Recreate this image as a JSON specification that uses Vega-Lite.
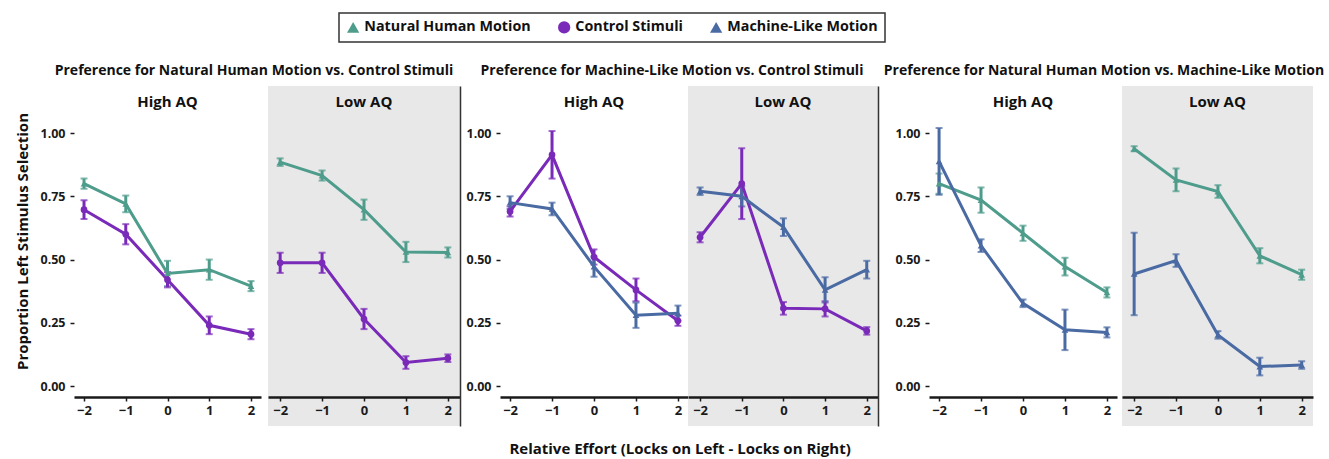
{
  "$schema": "https://vega.github.io/schema/vega-lite/v6.json",
  "padding": {"left": 15, "top": 12, "right": 0, "bottom": 0},
  "config": {
    "font": "Open Sans",
    "view": {"stroke": null},
    "title": {"fontSize": 14, "fontWeight": "bold", "color": "#111"},
    "legend": {
      "orient": "none", "legendX": 265, "legendY": -73, "direction": "horizontal",
      "strokeColor": "#333", "strokeWidth": 1.5, "padding": 7,
      "labelFontSize": 14.3, "labelFontWeight": "bold", "labelColor": "#111", "labelLimit": 300,
      "symbolSize": 150, "symbolStrokeWidth": 0, "columnPadding": 26, "symbolOpacity": 1
    }
  },
  "title": {"text": "Relative Effort (Locks on Left - Locks on Right)", "orient": "bottom", "anchor": "middle", "fontSize": 15, "fontWeight": "bold", "offset": 16, "dx": 10},
  "data": {"name": "d"},
  "datasets": {
    "d": [
      {"s":1,"aq":"High","c":"Natural Human Motion","x":-2,"y":0.80,"lo":0.78,"hi":0.82},
      {"s":1,"aq":"High","c":"Natural Human Motion","x":-1,"y":0.72,"lo":0.687,"hi":0.753},
      {"s":1,"aq":"High","c":"Natural Human Motion","x":0,"y":0.445,"lo":0.395,"hi":0.495},
      {"s":1,"aq":"High","c":"Natural Human Motion","x":1,"y":0.46,"lo":0.42,"hi":0.50},
      {"s":1,"aq":"High","c":"Natural Human Motion","x":2,"y":0.395,"lo":0.375,"hi":0.415},
      {"s":1,"aq":"High","c":"Control Stimuli","x":-2,"y":0.697,"lo":0.66,"hi":0.734},
      {"s":1,"aq":"High","c":"Control Stimuli","x":-1,"y":0.60,"lo":0.56,"hi":0.64},
      {"s":1,"aq":"High","c":"Control Stimuli","x":0,"y":0.42,"lo":0.39,"hi":0.45},
      {"s":1,"aq":"High","c":"Control Stimuli","x":1,"y":0.24,"lo":0.205,"hi":0.275},
      {"s":1,"aq":"High","c":"Control Stimuli","x":2,"y":0.205,"lo":0.185,"hi":0.225},
      {"s":1,"aq":"Low","c":"Natural Human Motion","x":-2,"y":0.885,"lo":0.87,"hi":0.90},
      {"s":1,"aq":"Low","c":"Natural Human Motion","x":-1,"y":0.832,"lo":0.812,"hi":0.852},
      {"s":1,"aq":"Low","c":"Natural Human Motion","x":0,"y":0.697,"lo":0.657,"hi":0.737},
      {"s":1,"aq":"Low","c":"Natural Human Motion","x":1,"y":0.53,"lo":0.49,"hi":0.57},
      {"s":1,"aq":"Low","c":"Natural Human Motion","x":2,"y":0.528,"lo":0.508,"hi":0.548},
      {"s":1,"aq":"Low","c":"Control Stimuli","x":-2,"y":0.487,"lo":0.447,"hi":0.527},
      {"s":1,"aq":"Low","c":"Control Stimuli","x":-1,"y":0.487,"lo":0.447,"hi":0.527},
      {"s":1,"aq":"Low","c":"Control Stimuli","x":0,"y":0.265,"lo":0.225,"hi":0.305},
      {"s":1,"aq":"Low","c":"Control Stimuli","x":1,"y":0.093,"lo":0.068,"hi":0.118},
      {"s":1,"aq":"Low","c":"Control Stimuli","x":2,"y":0.11,"lo":0.095,"hi":0.125},
      {"s":2,"aq":"High","c":"Control Stimuli","x":-2,"y":0.69,"lo":0.67,"hi":0.71},
      {"s":2,"aq":"High","c":"Control Stimuli","x":-1,"y":0.914,"lo":0.82,"hi":1.008},
      {"s":2,"aq":"High","c":"Control Stimuli","x":0,"y":0.51,"lo":0.48,"hi":0.54},
      {"s":2,"aq":"High","c":"Control Stimuli","x":1,"y":0.38,"lo":0.335,"hi":0.425},
      {"s":2,"aq":"High","c":"Control Stimuli","x":2,"y":0.258,"lo":0.238,"hi":0.278},
      {"s":2,"aq":"High","c":"Machine-Like Motion","x":-2,"y":0.725,"lo":0.70,"hi":0.75},
      {"s":2,"aq":"High","c":"Machine-Like Motion","x":-1,"y":0.70,"lo":0.675,"hi":0.725},
      {"s":2,"aq":"High","c":"Machine-Like Motion","x":0,"y":0.472,"lo":0.432,"hi":0.512},
      {"s":2,"aq":"High","c":"Machine-Like Motion","x":1,"y":0.28,"lo":0.23,"hi":0.33},
      {"s":2,"aq":"High","c":"Machine-Like Motion","x":2,"y":0.288,"lo":0.258,"hi":0.318},
      {"s":2,"aq":"Low","c":"Control Stimuli","x":-2,"y":0.588,"lo":0.568,"hi":0.608},
      {"s":2,"aq":"Low","c":"Control Stimuli","x":-1,"y":0.80,"lo":0.66,"hi":0.94},
      {"s":2,"aq":"Low","c":"Control Stimuli","x":0,"y":0.307,"lo":0.282,"hi":0.332},
      {"s":2,"aq":"Low","c":"Control Stimuli","x":1,"y":0.305,"lo":0.275,"hi":0.335},
      {"s":2,"aq":"Low","c":"Control Stimuli","x":2,"y":0.218,"lo":0.203,"hi":0.233},
      {"s":2,"aq":"Low","c":"Machine-Like Motion","x":-2,"y":0.77,"lo":0.755,"hi":0.785},
      {"s":2,"aq":"Low","c":"Machine-Like Motion","x":-1,"y":0.75,"lo":0.71,"hi":0.79},
      {"s":2,"aq":"Low","c":"Machine-Like Motion","x":0,"y":0.628,"lo":0.593,"hi":0.663},
      {"s":2,"aq":"Low","c":"Machine-Like Motion","x":1,"y":0.38,"lo":0.33,"hi":0.43},
      {"s":2,"aq":"Low","c":"Machine-Like Motion","x":2,"y":0.46,"lo":0.425,"hi":0.495},
      {"s":3,"aq":"High","c":"Natural Human Motion","x":-2,"y":0.80,"lo":0.76,"hi":0.84},
      {"s":3,"aq":"High","c":"Natural Human Motion","x":-1,"y":0.735,"lo":0.685,"hi":0.785},
      {"s":3,"aq":"High","c":"Natural Human Motion","x":0,"y":0.604,"lo":0.574,"hi":0.634},
      {"s":3,"aq":"High","c":"Natural Human Motion","x":1,"y":0.472,"lo":0.437,"hi":0.507},
      {"s":3,"aq":"High","c":"Natural Human Motion","x":2,"y":0.37,"lo":0.35,"hi":0.39},
      {"s":3,"aq":"High","c":"Machine-Like Motion","x":-2,"y":0.888,"lo":0.756,"hi":1.02},
      {"s":3,"aq":"High","c":"Machine-Like Motion","x":-1,"y":0.555,"lo":0.53,"hi":0.58},
      {"s":3,"aq":"High","c":"Machine-Like Motion","x":0,"y":0.327,"lo":0.312,"hi":0.342},
      {"s":3,"aq":"High","c":"Machine-Like Motion","x":1,"y":0.222,"lo":0.142,"hi":0.302},
      {"s":3,"aq":"High","c":"Machine-Like Motion","x":2,"y":0.212,"lo":0.192,"hi":0.232},
      {"s":3,"aq":"Low","c":"Natural Human Motion","x":-2,"y":0.938,"lo":0.928,"hi":0.948},
      {"s":3,"aq":"Low","c":"Natural Human Motion","x":-1,"y":0.815,"lo":0.77,"hi":0.86},
      {"s":3,"aq":"Low","c":"Natural Human Motion","x":0,"y":0.769,"lo":0.744,"hi":0.794},
      {"s":3,"aq":"Low","c":"Natural Human Motion","x":1,"y":0.515,"lo":0.485,"hi":0.545},
      {"s":3,"aq":"Low","c":"Natural Human Motion","x":2,"y":0.44,"lo":0.42,"hi":0.46},
      {"s":3,"aq":"Low","c":"Machine-Like Motion","x":-2,"y":0.443,"lo":0.28,"hi":0.606},
      {"s":3,"aq":"Low","c":"Machine-Like Motion","x":-1,"y":0.496,"lo":0.471,"hi":0.521},
      {"s":3,"aq":"Low","c":"Machine-Like Motion","x":0,"y":0.202,"lo":0.187,"hi":0.217},
      {"s":3,"aq":"Low","c":"Machine-Like Motion","x":1,"y":0.077,"lo":0.042,"hi":0.112},
      {"s":3,"aq":"Low","c":"Machine-Like Motion","x":2,"y":0.083,"lo":0.068,"hi":0.098}
    ]
  },
  "spacing": 5,
  "hconcat": [
    {
      "title": {"text": "Preference for Natural Human Motion vs. Control Stimuli", "anchor": "middle", "offset": 8, "dx": 16},
      "spacing": 7,
      "hconcat": [
        {
          "width": 187, "height": 340,
          "title": {"text": "High AQ", "offset": -24, "fontSize": 15},
          "encoding": {"x": {"field": "x", "type": "quantitative", "scale": {"domain": [-2.24, 2.24], "nice": false, "zero": false}, "axis": {"values": [-2,-1,0,1,2], "format": "d", "offset": -29, "title": null, "grid": false, "domainColor": "#1a1a1a", "domainWidth": 2.5, "tickColor": "#1a1a1a", "tickWidth": 1.5, "tickSize": 4, "labelFontSize": 13, "labelFontWeight": "bold", "labelColor": "#1a1a1a", "labelPadding": 3}}},
          "layer": [
            {"data": {"values": [{}]}, "mark": {"type": "rule", "color": "#1a1a1a", "strokeWidth": 2.5}, "encoding": {"x": {"datum": -2.24, "type": "quantitative"}, "y": {"datum": -0.043, "type": "quantitative", "title": "Proportion Left Stimulus Selection", "scale": {"domain": [-0.158, 1.186], "nice": false, "zero": false}, "axis": {"values": [0,0.25,0.5,0.75,1], "format": ".2f", "domain": false, "grid": false, "tickColor": "#1a1a1a", "tickSize": 4, "tickWidth": 1.5, "labelFontSize": 12.5, "labelFontWeight": "bold", "labelColor": "#1a1a1a", "labelPadding": 5, "title": "Proportion Left Stimulus Selection", "titleFontSize": 15, "titleFontWeight": "bold", "titleColor": "#111", "titleY": 155, "titlePadding": 9}}, "y2": {"datum": 1.045}}},
            {"transform": [{"filter": "datum.s == 1 && datum.aq == 'High'"}], "mark": {"type": "errorbar", "thickness": 3, "ticks": {"size": 7, "thickness": 2}}, "encoding": {"y": {"field": "lo", "type": "quantitative", "title": "Proportion Left Stimulus Selection", "scale": {"domain": [-0.158, 1.186], "nice": false, "zero": false}}, "y2": {"field": "hi"}, "color": {"field": "c", "type": "nominal", "title": null, "scale": {"domain": ["Natural Human Motion", "Control Stimuli", "Machine-Like Motion"], "range": ["#4e9c8b", "#7a2ab8", "#4a6aa3"]}}}},
            {"transform": [{"filter": "datum.s == 1 && datum.aq == 'High'"}], "mark": {"type": "line", "strokeWidth": 3}, "encoding": {"y": {"field": "y", "type": "quantitative", "title": "Proportion Left Stimulus Selection"}, "color": {"field": "c", "type": "nominal", "title": null}}},
            {"transform": [{"filter": "datum.s == 1 && datum.aq == 'High'"}], "mark": {"type": "point", "filled": true, "size": 45, "opacity": 1}, "encoding": {"y": {"field": "y", "type": "quantitative", "title": "Proportion Left Stimulus Selection"}, "color": {"field": "c", "type": "nominal", "title": null}, "shape": {"field": "c", "type": "nominal", "title": null, "scale": {"domain": ["Natural Human Motion", "Control Stimuli", "Machine-Like Motion"], "range": ["triangle-up", "circle", "triangle-up"]}}}}
          ]
        },
        {
          "width": 192, "height": 340,
          "view": {"fill": "#e8e8e8", "stroke": null},
          "title": {"text": "Low AQ", "offset": -24, "fontSize": 15},
          "encoding": {"x": {"field": "x", "type": "quantitative", "scale": {"domain": [-2.29, 2.29], "nice": false, "zero": false}, "axis": {"values": [-2,-1,0,1,2], "format": "d", "offset": -29, "title": null, "grid": false, "domainColor": "#1a1a1a", "domainWidth": 2.5, "tickColor": "#1a1a1a", "tickWidth": 1.5, "tickSize": 4, "labelFontSize": 13, "labelFontWeight": "bold", "labelColor": "#1a1a1a", "labelPadding": 3}}},
          "transform": [{"filter": "datum.s == 1 && datum.aq == 'Low'"}],
          "layer": [
            {"mark": {"type": "errorbar", "thickness": 3, "ticks": {"size": 7, "thickness": 2}}, "encoding": {"y": {"field": "lo", "type": "quantitative", "scale": {"domain": [-0.158, 1.186], "nice": false, "zero": false}, "axis": {"orient": "right", "labels": false, "ticks": false, "domain": true, "domainColor": "#333", "domainWidth": 1.5, "grid": false, "title": null}}, "y2": {"field": "hi"}, "color": {"field": "c", "type": "nominal", "title": null}}},
            {"mark": {"type": "line", "strokeWidth": 3}, "encoding": {"y": {"field": "y", "type": "quantitative"}, "color": {"field": "c", "type": "nominal", "title": null}}},
            {"mark": {"type": "point", "filled": true, "size": 45, "opacity": 1}, "encoding": {"y": {"field": "y", "type": "quantitative"}, "color": {"field": "c", "type": "nominal", "title": null}, "shape": {"field": "c", "type": "nominal", "title": null}}}
          ]
        }
      ]
    },
    {
      "title": {"text": "Preference for Machine-Like Motion vs. Control Stimuli", "anchor": "middle", "offset": 8},
      "spacing": 0,
      "hconcat": [
        {
          "width": 188, "height": 340,
          "title": {"text": "High AQ", "offset": -24, "fontSize": 15},
          "encoding": {"x": {"field": "x", "type": "quantitative", "scale": {"domain": [-2.24, 2.24], "nice": false, "zero": false}, "axis": {"values": [-2,-1,0,1,2], "format": "d", "offset": -29, "title": null, "grid": false, "domainColor": "#1a1a1a", "domainWidth": 2.5, "tickColor": "#1a1a1a", "tickWidth": 1.5, "tickSize": 4, "labelFontSize": 13, "labelFontWeight": "bold", "labelColor": "#1a1a1a", "labelPadding": 3}}},
          "layer": [
            {"data": {"values": [{}]}, "mark": {"type": "rule", "color": "#1a1a1a", "strokeWidth": 2.5}, "encoding": {"x": {"datum": -2.24, "type": "quantitative"}, "y": {"datum": -0.043, "type": "quantitative", "scale": {"domain": [-0.158, 1.186], "nice": false, "zero": false}, "axis": {"values": [0,0.25,0.5,0.75,1], "format": ".2f", "domain": false, "grid": false, "tickColor": "#1a1a1a", "tickSize": 4, "tickWidth": 1.5, "labelFontSize": 12.5, "labelFontWeight": "bold", "labelColor": "#1a1a1a", "labelPadding": 5, "title": null}}, "y2": {"datum": 1.045}}},
            {"transform": [{"filter": "datum.s == 2 && datum.aq == 'High'"}], "mark": {"type": "errorbar", "thickness": 3, "ticks": {"size": 7, "thickness": 2}}, "encoding": {"y": {"field": "lo", "type": "quantitative"}, "y2": {"field": "hi"}, "color": {"field": "c", "type": "nominal", "title": null}}},
            {"transform": [{"filter": "datum.s == 2 && datum.aq == 'High'"}], "mark": {"type": "line", "strokeWidth": 3}, "encoding": {"y": {"field": "y", "type": "quantitative"}, "color": {"field": "c", "type": "nominal", "title": null}}},
            {"transform": [{"filter": "datum.s == 2 && datum.aq == 'High'"}], "mark": {"type": "point", "filled": true, "size": 45, "opacity": 1}, "encoding": {"y": {"field": "y", "type": "quantitative"}, "color": {"field": "c", "type": "nominal", "title": null}, "shape": {"field": "c", "type": "nominal", "title": null}}}
          ]
        },
        {
          "width": 190, "height": 340,
          "view": {"fill": "#e8e8e8", "stroke": null},
          "title": {"text": "Low AQ", "offset": -24, "fontSize": 15},
          "encoding": {"x": {"field": "x", "type": "quantitative", "scale": {"domain": [-2.29, 2.27], "nice": false, "zero": false}, "axis": {"values": [-2,-1,0,1,2], "format": "d", "offset": -29, "title": null, "grid": false, "domainColor": "#1a1a1a", "domainWidth": 2.5, "tickColor": "#1a1a1a", "tickWidth": 1.5, "tickSize": 4, "labelFontSize": 13, "labelFontWeight": "bold", "labelColor": "#1a1a1a", "labelPadding": 3}}},
          "transform": [{"filter": "datum.s == 2 && datum.aq == 'Low'"}],
          "layer": [
            {"mark": {"type": "errorbar", "thickness": 3, "ticks": {"size": 7, "thickness": 2}}, "encoding": {"y": {"field": "lo", "type": "quantitative", "scale": {"domain": [-0.158, 1.186], "nice": false, "zero": false}, "axis": {"orient": "right", "labels": false, "ticks": false, "domain": true, "domainColor": "#333", "domainWidth": 1.5, "grid": false, "title": null}}, "y2": {"field": "hi"}, "color": {"field": "c", "type": "nominal", "title": null}}},
            {"mark": {"type": "line", "strokeWidth": 3}, "encoding": {"y": {"field": "y", "type": "quantitative"}, "color": {"field": "c", "type": "nominal", "title": null}}},
            {"mark": {"type": "point", "filled": true, "size": 45, "opacity": 1}, "encoding": {"y": {"field": "y", "type": "quantitative"}, "color": {"field": "c", "type": "nominal", "title": null}, "shape": {"field": "c", "type": "nominal", "title": null}}}
          ]
        }
      ]
    },
    {
      "title": {"text": "Preference for Natural Human Motion vs. Machine-Like Motion", "anchor": "middle", "offset": 8},
      "spacing": 5,
      "hconcat": [
        {
          "width": 188, "height": 340,
          "title": {"text": "High AQ", "offset": -24, "fontSize": 15},
          "encoding": {"x": {"field": "x", "type": "quantitative", "scale": {"domain": [-2.24, 2.24], "nice": false, "zero": false}, "axis": {"values": [-2,-1,0,1,2], "format": "d", "offset": -29, "title": null, "grid": false, "domainColor": "#1a1a1a", "domainWidth": 2.5, "tickColor": "#1a1a1a", "tickWidth": 1.5, "tickSize": 4, "labelFontSize": 13, "labelFontWeight": "bold", "labelColor": "#1a1a1a", "labelPadding": 3}}},
          "layer": [
            {"data": {"values": [{}]}, "mark": {"type": "rule", "color": "#1a1a1a", "strokeWidth": 2.5}, "encoding": {"x": {"datum": -2.24, "type": "quantitative"}, "y": {"datum": -0.043, "type": "quantitative", "scale": {"domain": [-0.158, 1.186], "nice": false, "zero": false}, "axis": {"values": [0,0.25,0.5,0.75,1], "format": ".2f", "domain": false, "grid": false, "tickColor": "#1a1a1a", "tickSize": 4, "tickWidth": 1.5, "labelFontSize": 12.5, "labelFontWeight": "bold", "labelColor": "#1a1a1a", "labelPadding": 5, "title": null}}, "y2": {"datum": 1.045}}},
            {"transform": [{"filter": "datum.s == 3 && datum.aq == 'High'"}], "mark": {"type": "errorbar", "thickness": 3, "ticks": {"size": 7, "thickness": 2}}, "encoding": {"y": {"field": "lo", "type": "quantitative"}, "y2": {"field": "hi"}, "color": {"field": "c", "type": "nominal", "title": null}}},
            {"transform": [{"filter": "datum.s == 3 && datum.aq == 'High'"}], "mark": {"type": "line", "strokeWidth": 3}, "encoding": {"y": {"field": "y", "type": "quantitative"}, "color": {"field": "c", "type": "nominal", "title": null}}},
            {"transform": [{"filter": "datum.s == 3 && datum.aq == 'High'"}], "mark": {"type": "point", "filled": true, "size": 45, "opacity": 1}, "encoding": {"y": {"field": "y", "type": "quantitative"}, "color": {"field": "c", "type": "nominal", "title": null}, "shape": {"field": "c", "type": "nominal", "title": null}}}
          ]
        },
        {
          "width": 191, "height": 340,
          "view": {"fill": "#e8e8e8", "stroke": null},
          "title": {"text": "Low AQ", "offset": -24, "fontSize": 15},
          "encoding": {"x": {"field": "x", "type": "quantitative", "scale": {"domain": [-2.29, 2.27], "nice": false, "zero": false}, "axis": {"values": [-2,-1,0,1,2], "format": "d", "offset": -29, "title": null, "grid": false, "domainColor": "#1a1a1a", "domainWidth": 2.5, "tickColor": "#1a1a1a", "tickWidth": 1.5, "tickSize": 4, "labelFontSize": 13, "labelFontWeight": "bold", "labelColor": "#1a1a1a", "labelPadding": 3}}},
          "transform": [{"filter": "datum.s == 3 && datum.aq == 'Low'"}],
          "layer": [
            {"mark": {"type": "errorbar", "thickness": 3, "ticks": {"size": 7, "thickness": 2}}, "encoding": {"y": {"field": "lo", "type": "quantitative", "scale": {"domain": [-0.158, 1.186], "nice": false, "zero": false}, "axis": null}, "y2": {"field": "hi"}, "color": {"field": "c", "type": "nominal", "title": null}}},
            {"mark": {"type": "line", "strokeWidth": 3}, "encoding": {"y": {"field": "y", "type": "quantitative"}, "color": {"field": "c", "type": "nominal", "title": null}}},
            {"mark": {"type": "point", "filled": true, "size": 45, "opacity": 1}, "encoding": {"y": {"field": "y", "type": "quantitative"}, "color": {"field": "c", "type": "nominal", "title": null}, "shape": {"field": "c", "type": "nominal", "title": null}}}
          ]
        }
      ]
    }
  ]
}
